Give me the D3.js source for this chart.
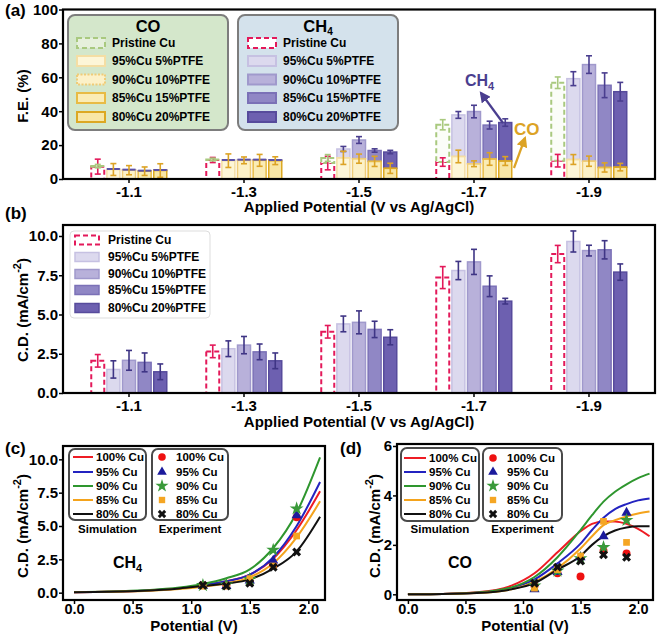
<!DOCTYPE html>
<html><head><meta charset="utf-8">
<script src="https://cdn.jsdelivr.net/npm/d3@7/dist/d3.min.js"></script>
<style>
body{margin:0;background:#fff;}
svg{display:block;}
text{font-family:"Liberation Sans",Arial,Helvetica,sans-serif;font-weight:bold;fill:#000;}
</style></head><body>
<svg id="fig" width="660" height="634"></svg>
<script>
// ---------------- DATA ----------------
const potentials = ["-1.1","-1.3","-1.5","-1.7","-1.9"];
const samples = ["Pristine Cu","95%Cu 5%PTFE","90%Cu 10%PTFE","85%Cu 15%PTFE","80%Cu 20%PTFE"];
// (a) Faradaic efficiency (%), rows = samples, cols = potentials
const feCO     = [[0.3,0.3,3,22,46],[5.6,10.8,12.5,13.3,11.5],[5.2,11,12,9,10.5],[4.6,11,10.4,11.8,6.8],[5,10.8,6.3,10.6,7]];
const feCOErr  = [[1,0.8,2,3,3.4],[3.5,4,3.9,3.7,2.9],[2.7,2,2.7,1.7,3],[2.5,3.5,3,3.7,2.7],[4,2.3,3,2.6,2.2]];
const feCH4    = [[7.3,11.2,9.4,10,10.8],[0.3,0.4,5.2,24.5,47.7],[0.3,0.4,11,30.8,57],[0.3,0.4,6.4,20,48.5],[0.3,0.4,9.6,22.7,44.5]];
const feCH4Err = [[4.4,1.5,4,2.5,3.7],[0,0,1.5,2,4.1],[0,0,2,3.7,5.2],[0,0,1,2.3,7.3],[0,0,1,2.2,5.5]];
// (b) current density (mA/cm^2)
const cd    = [[2.05,2.65,3.9,7.35,8.85],[1.5,2.82,4.4,7.8,9.65],[2.08,3.05,4.5,8.35,9.07],[1.95,2.62,4.05,6.8,9.12],[1.35,2.05,3.55,5.85,7.7]];
const cdErr = [[0.4,0.4,0.4,0.7,0.55],[0.55,0.5,0.5,0.58,0.67],[0.63,0.55,0.73,0.8,0.34],[0.6,0.5,0.52,0.66,0.58],[0.5,0.5,0.48,0.18,0.52]];
// (c),(d) simulation & experiment
const cuLabels = ["100% Cu","95% Cu","90% Cu","85% Cu","80% Cu"];
const simXc = [0,0.3,0.6,0.9,1.1,1.3,1.5,1.7,1.9,2.1];
const ch4Sim = [
  [0.04,0.07,0.15,0.33,0.55,0.85,1.35,2.55,4.7,7.6],
  [0.04,0.07,0.15,0.33,0.55,0.85,1.35,2.65,5.0,8.3],
  [0.05,0.09,0.18,0.38,0.65,1.08,1.75,3.35,6.0,10.15],
  [0.03,0.06,0.12,0.27,0.45,0.7,1.15,2.2,4.15,6.85],
  [0.04,0.07,0.15,0.32,0.5,0.68,1.0,1.8,3.1,5.7]];
const simXd = [0,0.3,0.6,0.9,1.1,1.3,1.5,1.6,1.7,1.8,1.9,2.0,2.1];
const coSim = [
  [0,0.015,0.08,0.35,0.85,1.7,2.55,2.85,2.95,2.95,2.85,2.65,2.35],
  [0,0.01,0.06,0.25,0.6,1.25,2.05,2.6,3.1,3.45,3.65,3.8,3.88],
  [0,0.01,0.07,0.28,0.7,1.5,2.6,3.2,3.75,4.15,4.45,4.7,4.88],
  [0,0.01,0.05,0.2,0.5,1.05,1.85,2.35,2.8,3.0,3.15,3.27,3.35],
  [0,0.01,0.05,0.2,0.45,1.0,1.55,2.0,2.35,2.58,2.7,2.75,2.75]];
const expX = [1.1,1.3,1.5,1.7,1.9];
const ch4Exp = [[0.55,0.55,0.8,2.1,5.65],[0.5,0.5,0.9,2.4,5.8],[0.55,0.6,1.0,3.2,6.3],[0.5,0.5,1.05,2.0,4.25],[0.55,0.5,0.7,1.9,3.05]];
const coExp  = [[0.35,0.85,0.72,1.75,1.65],[0.2,0.9,1.5,2.35,3.3],[0.35,0.95,1.45,1.9,3.0],[0.25,1.0,1.55,2.95,2.1],[0.45,1.1,1.35,1.6,1.5]];
const yTicksA = [0,20,40,60,80,100];
const yTicksB = [0,2.5,5,7.5,10];
const yTicksC = [0,2.5,5,7.5,10];
const yTicksD = [0,2,4,6];
const xTicksCD = [0,0.5,1,1.5,2];

// ---------------- STYLES ----------------
const purpleFill = ["#ffffff","#dcd9ee","#b8b1da","#9087c5","#6d60b0"];
const purpleStroke = ["#e3195a","#c6c1e2","#a099cc","#7b71b7","#574b9c"];
const yellowFill = ["#ffffff","#fdf6d8","#fcf1c8","#faecb6","#f8e6a6"];
const yellowStroke = ["#a9c97f","#f4dea4","#efcc78","#e8bb45","#dca823"];
const simColors = ["#ee1c24","#2323c0","#2e962e","#f4a31c","#111111"];
const expColors = ["#ee1111","#1b1b9c","#3a9a3a","#f5a623","#111111"];
const expSymbols = [d3.symbolCircle,d3.symbolTriangle,d3.symbolStar,d3.symbolSquare,d3.symbolCross];
const expSizes = [50,45,60,45,50];
const RED = "#e3195a", GREEN = "#a9c97f", CH4C = "#4a3e8f", COC = "#dca325";

const svg = d3.select("#fig");
const defs = svg.append("defs");
function arrowMarker(id,color){
  defs.append("marker").attr("id",id).attr("viewBox","0 0 10 10").attr("refX",8).attr("refY",5)
    .attr("markerWidth",5).attr("markerHeight",5).attr("orient","auto")
    .append("path").attr("d","M0,0 L10,5 L0,10 z").attr("fill",color);
}
arrowMarker("arPur",CH4C); arrowMarker("arGold",COC);

function styleAxis(g,fs){
  g.select(".domain").remove();
  g.selectAll(".tick line").attr("stroke","#000").attr("stroke-width",1.5);
  g.selectAll(".tick text").style("font-size",(fs||15)+"px").style("font-weight","bold").attr("fill","#000");
}
function frame(x0,y0,x1,y1){
  svg.append("rect").attr("x",x0).attr("y",y0).attr("width",x1-x0).attr("height",y1-y0)
    .attr("fill","none").attr("stroke","#000").attr("stroke-width",2.2);
}
function errBar(g,x,yTop,yBot,color,w){
  const hw = (w||6)/2;
  g.append("line").attr("x1",x).attr("x2",x).attr("y1",yTop).attr("y2",yBot).attr("stroke",color).attr("stroke-width",1.6);
  g.append("line").attr("x1",x-hw).attr("x2",x+hw).attr("y1",yTop).attr("y2",yTop).attr("stroke",color).attr("stroke-width",1.6);
  g.append("line").attr("x1",x-hw).attr("x2",x+hw).attr("y1",yBot).attr("y2",yBot).attr("stroke",color).attr("stroke-width",1.6);
}
function yLabel(x,y,main,sup,tail,fs){
  const t = svg.append("text").attr("transform",`translate(${x},${y}) rotate(-90)`).attr("text-anchor","middle")
    .style("font-size",(fs||15)+"px");
  t.append("tspan").text(main);
  if(sup){ t.append("tspan").attr("dy",-7).style("font-size","11px").text(sup);
           t.append("tspan").attr("dy",7).text(tail); }
  return t;
}
function panelLabel(x,y,s){ svg.append("text").attr("x",x).attr("y",y).style("font-size","17px").text(s); }

// ================= PANEL (a) =================
const A = {l:63,r:655,t:9.5,b:179};
const xa0 = d3.scaleBand().domain(potentials).range([A.l,A.r]).paddingInner(0.326).paddingOuter(0.237);
const xa1 = d3.scaleBand().domain(samples).range([0,xa0.bandwidth()]).paddingInner(0.04);
const ya = d3.scaleLinear().domain([0,100]).range([A.b,A.t]);
const ga = svg.append("g");
// legend boxes
function legendBoxA(x,title,sub,bg){
  ga.append("rect").attr("x",x).attr("y",15).attr("width",160).attr("height",115).attr("rx",7)
    .attr("fill",bg).attr("stroke","#7d7d7d").attr("stroke-width",2);
  const t = ga.append("text").attr("x",x+80).attr("y",32).attr("text-anchor","middle").style("font-size","16.5px").text(title);
  if(sub) t.append("tspan").attr("dy",2.5).style("font-size","10px").text(sub);
}
legendBoxA(68,"CO",null,"#d4e7cb");
legendBoxA(238,"CH",'4',"#d4e2ec");
const rowY = [43,61,79.5,98,117];
samples.forEach((s,i)=>{
  // CO legend
  const r1 = ga.append("rect").attr("x",77).attr("y",rowY[i]-5).attr("width",28).attr("height",10)
    .attr("fill",i===0?"#e6f0dc":yellowFill[i]).attr("stroke",yellowStroke[i]).attr("stroke-width",2);
  if(i===0) r1.attr("stroke-dasharray","5,3");
  if(i===2) r1.attr("stroke-dasharray","2,1.5");
  ga.append("text").attr("x",112).attr("y",rowY[i]+4.3).style("font-size","12px").text(s);
  // CH4 legend
  const r2 = ga.append("rect").attr("x",248).attr("y",rowY[i]-5).attr("width",28).attr("height",10)
    .attr("fill",purpleFill[i]).attr("stroke",purpleStroke[i]).attr("stroke-width",2);
  if(i===0) r2.attr("stroke-dasharray","5,3");
  ga.append("text").attr("x",283).attr("y",rowY[i]+4.3).style("font-size","12px").text(s);
});
// bars
potentials.forEach((p,j)=>{
  samples.forEach((s,i)=>{
    const x = xa0(p)+xa1(s), w = xa1.bandwidth(), cx = x+w/2;
    const co = feCO[i][j], ch = feCH4[i][j];
    if(i===0){
      ga.append("rect").attr("x",x+1).attr("y",ya(ch)).attr("width",w-2).attr("height",ya(0)-ya(ch))
        .attr("fill","#fff").attr("stroke",RED).attr("stroke-width",2).attr("stroke-dasharray","5,3");
      ga.append("rect").attr("x",x+1).attr("y",ya(ch+co)).attr("width",w-2).attr("height",ya(ch)-ya(ch+co))
        .attr("fill","#fbfdf8").attr("stroke",GREEN).attr("stroke-width",2).attr("stroke-dasharray","5,3");
      errBar(ga,cx,ya(ch+feCH4Err[i][j]),ya(Math.max(0,ch-feCH4Err[i][j])),RED);
      errBar(ga,cx,ya(ch+co+feCOErr[i][j]),ya(ch+co-feCOErr[i][j]),GREEN);
    } else {
      ga.append("rect").attr("x",x+1).attr("y",ya(co+ch)).attr("width",w-2).attr("height",ya(co)-ya(co+ch))
        .attr("fill",purpleFill[i]).attr("stroke",purpleStroke[i]).attr("stroke-width",1.5);
      ga.append("rect").attr("x",x+1).attr("y",ya(co)).attr("width",w-2).attr("height",ya(0)-ya(co))
        .attr("fill",yellowFill[i]).attr("stroke",yellowStroke[i]).attr("stroke-width",1.5);
      if(ch>1){
        ga.append("line").attr("x1",x+1).attr("x2",x+w-1).attr("y1",ya(co)).attr("y2",ya(co)).attr("stroke",yellowStroke[i]).attr("stroke-width",1.5);
      } else {
        ga.append("line").attr("x1",x+1).attr("x2",x+w-1).attr("y1",ya(co+ch)).attr("y2",ya(co+ch)).attr("stroke","#5a50a8").attr("stroke-width",2);
      }
      if(feCH4Err[i][j]>0) errBar(ga,cx,ya(co+ch+feCH4Err[i][j]),ya(co+ch-feCH4Err[i][j]),CH4C);
      errBar(ga,cx,ya(co+feCOErr[i][j]),ya(Math.max(0,co-feCOErr[i][j])),COC);
    }
  });
});
// annotations
ga.append("text").attr("x",465).attr("y",86).style("font-size","16px").style("fill",CH4C)
  .text("CH").append("tspan").attr("dy",4).style("font-size","11px").text("4");
ga.append("line").attr("x1",503).attr("y1",123).attr("x2",481).attr("y2",93).attr("stroke",CH4C).attr("stroke-width",2.2).attr("marker-end","url(#arPur)");
ga.append("text").attr("x",514).attr("y",135).style("font-size","17px").style("fill",COC).text("CO");
ga.append("line").attr("x1",514).attr("y1",168).attr("x2",525).attr("y2",138).attr("stroke",COC).attr("stroke-width",2.2).attr("marker-end","url(#arGold)");
// axes
styleAxis(ga.append("g").attr("transform",`translate(${A.l},0)`).call(d3.axisLeft(ya).tickValues(yTicksA).tickSize(4).tickPadding(1).tickFormat(d3.format("d"))));
styleAxis(ga.append("g").attr("transform",`translate(0,${A.b})`).call(d3.axisBottom(xa0).tickSize(4).tickPadding(3)));
frame(A.l,A.t,A.r,A.b);
yLabel(28,96,"F.E. (%)");
svg.append("text").attr("x",(A.l+A.r)/2).attr("y",212).attr("text-anchor","middle").style("font-size","15px").text("Applied Potential (V vs Ag/AgCl)");
panelLabel(5,16,"(a)");

// ================= PANEL (b) =================
const B = {l:63,r:655,t:225,b:393};
const xb0 = d3.scaleBand().domain(potentials).range([B.l,B.r]).paddingInner(0.326).paddingOuter(0.237);
const xb1 = d3.scaleBand().domain(samples).range([0,xb0.bandwidth()]).paddingInner(0.04);
const yb = d3.scaleLinear().domain([0,10.7]).range([B.b,B.t]);
const gb = svg.append("g");
potentials.forEach((p,j)=>{
  samples.forEach((s,i)=>{
    const x = xb0(p)+xb1(s), w = xb1.bandwidth(), cx = x+w/2, v = cd[i][j], e = cdErr[i][j];
    const r = gb.append("rect").attr("x",x+1).attr("y",yb(v)).attr("width",w-2).attr("height",yb(0)-yb(v))
      .attr("fill",purpleFill[i]).attr("stroke",purpleStroke[i]).attr("stroke-width",i===0?2:1.5);
    if(i===0) r.attr("stroke-dasharray","5,3");
    errBar(gb,cx,yb(v+e),yb(v-e),i===0?RED:"#3f3585");
  });
});
// legend
gb.append("rect").attr("x",70).attr("y",231).attr("width",140).attr("height",87).attr("rx",4)
  .attr("fill","#fff").attr("fill-opacity",0.85).attr("stroke","#dddddd").attr("stroke-width",1);
const rowYb = [240,257,274,290,308];
samples.forEach((s,i)=>{
  const r = gb.append("rect").attr("x",75).attr("y",rowYb[i]-4.5).attr("width",24).attr("height",9)
    .attr("fill",purpleFill[i]).attr("stroke",purpleStroke[i]).attr("stroke-width",i===0?2:1.5);
  if(i===0) r.attr("stroke-dasharray","5,3");
  gb.append("text").attr("x",108).attr("y",rowYb[i]+4.3).style("font-size","12px").text(s);
});
styleAxis(gb.append("g").attr("transform",`translate(${B.l},0)`).call(d3.axisLeft(yb).tickValues(yTicksB).tickSize(4).tickPadding(1).tickFormat(d3.format(".1f"))));
styleAxis(gb.append("g").attr("transform",`translate(0,${B.b})`).call(d3.axisBottom(xb0).tickSize(4).tickPadding(3)));
frame(B.l,B.t,B.r,B.b);
yLabel(28,310,"C.D. (mA/cm","-2",")");
svg.append("text").attr("x",(B.l+B.r)/2).attr("y",427).attr("text-anchor","middle").style("font-size","15px").text("Applied Potential (V vs Ag/AgCl)");
panelLabel(5,219,"(b)");

// ================= PANELS (c),(d) =================
function simPanel(P, xDom, yDom, simX, sims, exps, yTicks, yFmt, gasMain, gasSub, L){
  const g = svg.append("g");
  const x = d3.scaleLinear().domain(xDom).range([P.l,P.r]);
  const y = d3.scaleLinear().domain(yDom).range([P.b,P.t]);
  const line = d3.line().x((d,k)=>x(simX[k])).y(d=>y(d)).curve(d3.curveMonotoneX);
  sims.forEach((s,i)=>{
    g.append("path").attr("d",line(s)).attr("fill","none").attr("stroke",simColors[i]).attr("stroke-width",2);
  });
  exps.forEach((s,i)=>{
    s.forEach((v,k)=>{
      g.append("path").attr("d",d3.symbol(expSymbols[i],expSizes[i])())
        .attr("transform",`translate(${x(expX[k])},${y(v)}) rotate(${i===4?45:0})`).attr("fill",expColors[i]);
    });
  });
  // legends
  const lb = (bx,bw)=>g.append("rect").attr("x",bx).attr("y",L.y).attr("width",bw).attr("height",L.h).attr("rx",6)
      .attr("fill","#fff").attr("stroke","#4a4a4a").attr("stroke-width",2);
  lb(L.sx,L.sw); lb(L.ex,L.ew);
  cuLabels.forEach((c,i)=>{
    const ry = L.rows[i];
    g.append("line").attr("x1",L.lx0).attr("x2",L.lx1).attr("y1",ry).attr("y2",ry).attr("stroke",simColors[i]).attr("stroke-width",2);
    g.append("text").attr("x",L.lt).attr("y",ry+4).style("font-size","11.5px").text(c);
    g.append("path").attr("d",d3.symbol(expSymbols[i],expSizes[i]*0.9)())
      .attr("transform",`translate(${L.mx},${ry}) rotate(${i===4?45:0})`).attr("fill",expColors[i]);
    g.append("text").attr("x",L.mt).attr("y",ry+4).style("font-size","11.5px").text(c);
  });
  g.append("text").attr("x",L.sx+L.sw/2).attr("y",533).attr("text-anchor","middle").style("font-size","11.5px").text("Simulation");
  g.append("text").attr("x",L.ex+L.ew/2).attr("y",533).attr("text-anchor","middle").style("font-size","11.5px").text("Experiment");
  const gt = g.append("text").attr("x",L.gx).attr("y",568).style("font-size","16px").text(gasMain);
  if(gasSub) gt.append("tspan").attr("dy",4).style("font-size","11px").text(gasSub);
  styleAxis(g.append("g").attr("transform",`translate(${P.l},0)`).call(d3.axisLeft(y).tickValues(yTicks).tickSize(4).tickPadding(1).tickFormat(d3.format(yFmt))));
  styleAxis(g.append("g").attr("transform",`translate(0,${P.b})`).call(d3.axisBottom(x).tickValues(xTicksCD).tickSize(4).tickPadding(0).tickFormat(d3.format(".1f"))), 14.5);
  frame(P.l,P.t,P.r,P.b);
  svg.append("text").attr("x",(P.l+P.r)/2).attr("y",631).attr("text-anchor","middle").style("font-size","15px").text("Potential (V)");
}
simPanel({l:63,r:325,t:446,b:600},[-0.094,2.142],[-0.55,11.0],simXc,ch4Sim,ch4Exp,yTicksC,".1f","CH","4",
  {y:449,h:71,sx:69,sw:77,ex:152,ew:76,rows:[457,472,486,500,514],lx0:73,lx1:93,lt:96,mx:162,mt:176,gx:113});
yLabel(28,526,"C.D. (mA/cm","-2",")");
panelLabel(5,454,"(c)");
simPanel({l:397,r:653,t:444,b:600},[-0.095,2.13],[-0.23,6.08],simXd,coSim,coExp,yTicksD,"d","CO",null,
  {y:448,h:73,sx:401,sw:78,ex:483,ew:79,rows:[458,472,486,500,514],lx0:404,lx1:426,lt:429,mx:493,mt:507,gx:448});
yLabel(380,526,"C.D. (mA/cm","-2",")");
panelLabel(340,454,"(d)");
</script>
</body></html>
